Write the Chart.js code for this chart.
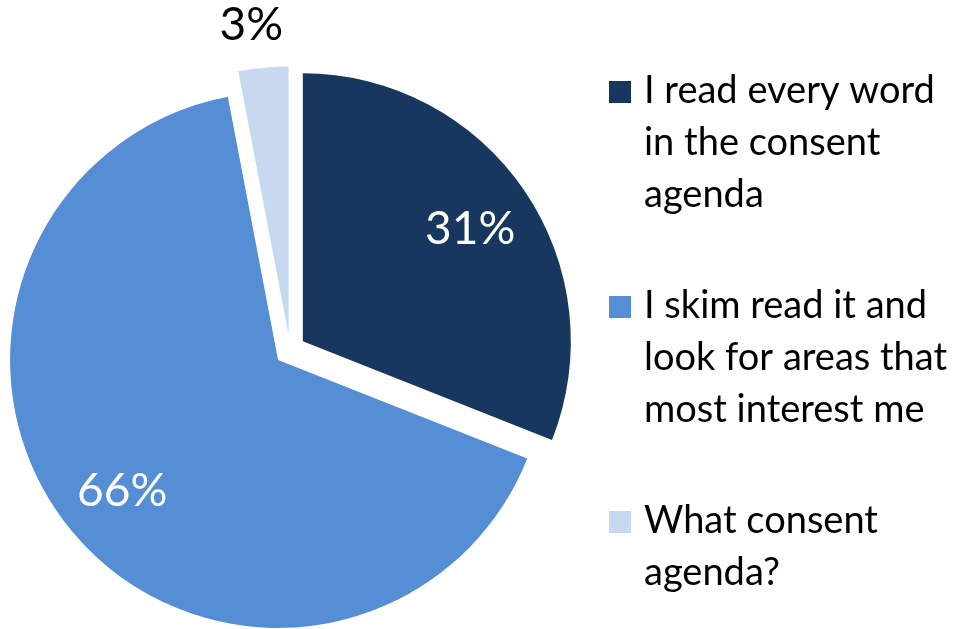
<!DOCTYPE html>
<html>
<head>
<meta charset="utf-8">
<script src="https://cdn.jsdelivr.net/npm/chart.js@4.4.1/dist/chart.umd.min.js"></script>
<style>
  html, body { margin: 0; padding: 0; background: #fff; }
  canvas { display: block; }
</style>
</head>
<body>
<canvas id="chart" width="965" height="629"></canvas>
<script>
// legend labels, already broken into lines like the original
const labels = [
  ['I read every word', 'in the consent', 'agenda'],
  ['I skim read it and', 'look for areas that', 'most interest me'],
  ['What consent', 'agenda?']
];
const values = [31, 66, 3];
const colors = ['#17375E', '#558ED5', '#C6D9F1'];
const labelColors = ['#ffffff', '#ffffff', '#000000'];

const FONT = 'Lato, "Open Sans", sans-serif';
const EXPLODE = 15.5; // px each slice is pulled out

// pull every slice out along its bisector (like an exploded Excel pie)
const explodePlugin = {
  id: 'explode',
  afterDatasetsUpdate(chart) {
    const meta = chart.getDatasetMeta(0);
    meta.data.forEach(arc => {
      const mid = (arc.startAngle + arc.endAngle) / 2;
      arc.x += Math.cos(mid) * EXPLODE;
      arc.y += Math.sin(mid) * EXPLODE;
    });
  }
};

// percent labels on the slices
const sliceLabels = {
  id: 'sliceLabels',
  afterDatasetsDraw(chart) {
    const ctx = chart.ctx;
    const meta = chart.getDatasetMeta(0);
    const total = values.reduce((a, b) => a + b, 0);
    ctx.save();
    ctx.font = '46px ' + FONT;
    ctx.textAlign = 'center';
    ctx.textBaseline = 'middle';
    meta.data.forEach((arc, i) => {
      const mid = (arc.startAngle + arc.endAngle) / 2;
      const pct = Math.round(values[i] / total * 100) + '%';
      let x, y;
      if (values[i] / total > 0.1) {
        const d = arc.outerRadius * 0.755;
        x = arc.x + Math.cos(mid) * d;
        y = arc.y + Math.sin(mid) * d;
      } else {
        // small slice: label sits above the rim (outside end)
        x = arc.x + Math.cos(mid) * arc.outerRadius - 12;
        y = arc.y + Math.sin(mid) * arc.outerRadius - 45;
      }
      ctx.fillStyle = labelColors[i];
      ctx.fillText(pct, x, y + 2);
    });
    ctx.restore();
  }
};

// legend on the right with wrapped text
const sideLegend = {
  id: 'sideLegend',
  afterDraw(chart) {
    const ctx = chart.ctx;
    const boxX = 609, boxSize = 22, textX = 644;
    const lineH = 52, gap = 59;
    let baseline = 103;
    ctx.save();
    ctx.font = '38px ' + FONT;
    ctx.textAlign = 'left';
    ctx.textBaseline = 'alphabetic';
    labels.forEach((lines, i) => {
      ctx.fillStyle = colors[i];
      ctx.fillRect(boxX, baseline - boxSize, boxSize, boxSize);
      ctx.fillStyle = '#000';
      lines.forEach((ln, j) => {
        ctx.fillText(ln, textX, baseline + j * lineH);
      });
      baseline += lines.length * lineH + gap;
    });
    ctx.restore();
  }
};

new Chart(document.getElementById('chart'), {
  type: 'pie',
  data: {
    labels: labels.map(l => l.join(' ')),
    datasets: [{
      data: values,
      backgroundColor: colors,
      borderWidth: 0
    }]
  },
  options: {
    responsive: false,
    animation: false,
    layout: {
      padding: { top: 82, bottom: 11, left: 22, right: 407 }
    },
    plugins: {
      legend: { display: false },
      tooltip: { enabled: false }
    }
  },
  plugins: [explodePlugin, sliceLabels, sideLegend]
});
</script>
</body>
</html>
